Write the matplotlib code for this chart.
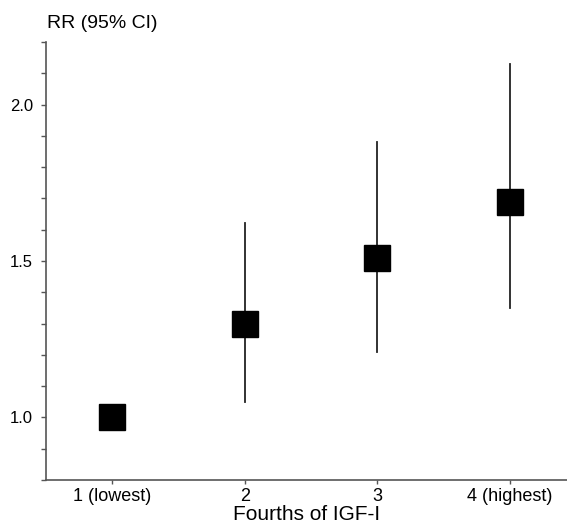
import numpy as np
import matplotlib.pyplot as plt
from matplotlib.ticker import MultipleLocator

# данные
groups = ['1 (lowest)', '2', '3', '4 (highest)']
rr = [1.00, 1.30, 1.51, 1.69]
ci_low = [np.nan, 1.05, 1.21, 1.35]
ci_high = [np.nan, 1.62, 1.88, 2.13]

plt.rcParams['font.family'] = ['Liberation Sans', 'DejaVu Sans']

fig = plt.figure(figsize=(5.67, 5.29), dpi=100)
ax = fig.add_axes([46 / 567, 49 / 529, 1 - 46 / 567, (480 - 42) / 529])

x = np.arange(1, len(groups) + 1)
for xi, lo, hi in zip(x, ci_low, ci_high):
    if not np.isnan(lo):
        ax.plot([xi, xi], [lo, hi], color='#222222', lw=1.3, zorder=1)
ax.plot(x, rr, 's', color='black', markersize=19, zorder=2)

ax.set_xlim(0.5, 4.43)
ax.set_ylim(0.8, 2.2)
ax.set_xticks(x)
ax.set_xticklabels(groups)
ax.yaxis.set_minor_locator(MultipleLocator(0.1))
ax.set_yticks([1.0, 1.5, 2.0])
ax.set_yticklabels(['1.0', '1.5', '2.0'])

for s in ['top', 'right']:
    ax.spines[s].set_visible(False)
for s in ['left', 'bottom']:
    ax.spines[s].set_color('#555555')
    ax.spines[s].set_linewidth(1.2)

ax.tick_params(axis='y', which='both', length=3.5, width=1.0, color='#555555',
               labelsize=12, pad=6)
ax.tick_params(axis='x', length=3, width=1.0, color='#555555', labelsize=13, pad=3)

ax.set_xlabel('Fourths of IGF-I', fontsize=15, labelpad=0)
fig.text(47 / 567, 1 - 23 / 529, 'RR (95% CI)', fontsize=14, va='center', ha='left')

fig.savefig('out.png', dpi=100)
